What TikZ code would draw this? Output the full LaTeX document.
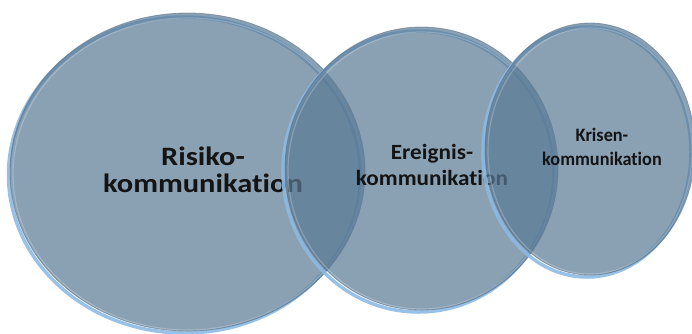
\documentclass[tikz,border=0pt]{standalone}
\usepackage{fontspec}
\newfontfamily\labelfont[Ligatures=NoCommon]{Carlito}
\usetikzlibrary{shapes.geometric}
\definecolor{discbody}{RGB}{89,121,148}
\definecolor{discrim}{RGB}{140,186,228}
\definecolor{discedge}{RGB}{90,110,130}
\begin{document}
\begin{tikzpicture}[x=1pt,y=-1pt,
  disc/.style={ellipse, inner sep=0pt, outer sep=0pt, fill=discbody, fill opacity=0.7,
               draw=discedge, draw opacity=0.55, line width=0.8pt},
  rim/.style={ellipse, inner sep=0pt, outer sep=0pt, draw=discrim, line width=3.5pt, draw opacity=0.9},
  gloss/.style={ellipse, inner sep=0pt, outer sep=0pt, draw=white, draw opacity=0.22, line width=1.2pt},
  disclabel/.style={text=black!92, align=center, inner sep=0pt, anchor=base}]
\useasboundingbox (0,0) rectangle (692,333);

% Risikokommunikation (label anchored at the baseline of its last line)
\node[rim,   minimum width=352pt, minimum height=316pt] (r1) at (184.5,175) {};
\node[disc,  minimum width=355pt, minimum height=318pt] (c1) at (187.5,172) {};
\node[gloss, minimum width=349pt, minimum height=312pt] (g1) at (187.5,174) {};
\node[disclabel, xscale=1.15, font=\labelfont\bfseries\fontsize{26.5}{27}\selectfont]
  (t1) at (203,192) {Risiko-\\kommunikation};

% Ereigniskommunikation
\node[rim,   minimum width=271pt, minimum height=281pt] (r2) at (418.5,171.5) {};
\node[disc,  minimum width=273pt, minimum height=283pt] (c2) at (421.5,168.5) {};
\node[gloss, minimum width=267pt, minimum height=277pt] (g2) at (421.5,170.5) {};
\node[disclabel, xscale=1.07, font=\labelfont\bfseries\fontsize{21.7}{26}\selectfont]
  (t2) at (432,185) {Ereignis-\\kommunikation};

% Krisenkommunikation
\node[rim,   minimum width=208pt, minimum height=250pt] (r3) at (587,152) {};
\node[disc,  minimum width=210pt, minimum height=252pt] (c3) at (590,149) {};
\node[gloss, minimum width=204pt, minimum height=246pt] (g3) at (590,151) {};
\node[disclabel, xscale=0.96, font=\labelfont\bfseries\fontsize{19}{24}\selectfont]
  (t3) at (602,165) {Krisen-\\kommunikation};
\end{tikzpicture}
\end{document}
